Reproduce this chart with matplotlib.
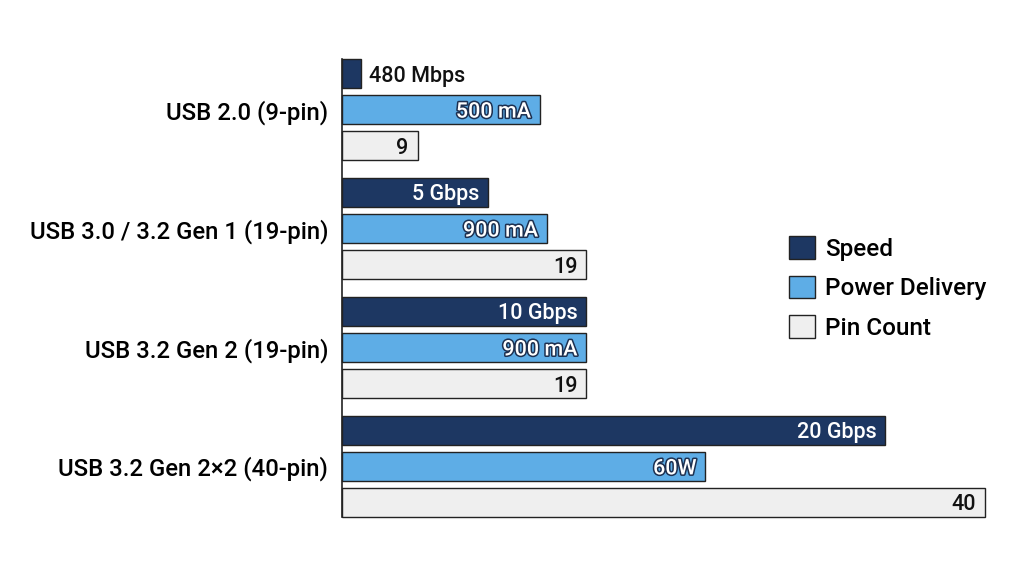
import matplotlib
matplotlib.use("Agg")
import matplotlib.pyplot as plt
import matplotlib.patheffects as pe
import numpy as np

plt.rcParams['font.family'] = ['Roboto', 'DejaVu Sans']
plt.rcParams['font.weight'] = 500

categories = ["USB 2.0 (9-pin)", "USB 3.0 / 3.2 Gen 1 (19-pin)",
              "USB 3.2 Gen 2 (19-pin)", "USB 3.2 Gen 2\u00d72 (40-pin)"]
series_names = ["Speed", "Power Delivery", "Pin Count"]
# relative bar lengths (illustrative scale, pin count units)
speed_len = [1.2, 9.1, 15.2, 33.8]
power_len = [12.3, 12.75, 15.2, 22.6]
pin_len = [4.7, 15.2, 15.2, 40]
speed_labels = ["480 Mbps", "5 Gbps", "10 Gbps", "20 Gbps"]
power_labels = ["500 mA", "900 mA", "900 mA", "60W"]
pin_labels = ["9", "19", "19", "40"]

colors = ["#1d3762", "#5eade6", "#efefef"]
edge = "#222222"

fig = plt.figure(figsize=(10.24, 5.72), dpi=100)
ax = fig.add_axes([342/1024, 1-517/572, (985-342)/1024, (517-59)/572])

y = np.arange(len(categories))
off = 0.303
h = 0.245
lens = [speed_len, power_len, pin_len]
labs = [speed_labels, power_labels, pin_labels]
fs = 15.5
for i, (L, lab, c, name) in enumerate(zip(lens, labs, colors, series_names)):
    yy = y + (i - 1) * off
    bars = ax.barh(yy, L, height=h, color=c, edgecolor=edge, linewidth=1.0, label=name)
    for b in bars:
        b.set_clip_on(False)
    for yi, v, t in zip(yy, L, lab):
        if i == 0:
            if v < 5:
                ax.text(v + 0.5, yi, t, ha='left', va='center_baseline', fontsize=fs, color='#111111')
            else:
                ax.text(v - 0.55, yi, t, ha='right', va='center_baseline', fontsize=fs, color='white')
        elif i == 1:
            ax.text(v - 0.55, yi, t, ha='right', va='center_baseline', fontsize=fs, color='white',
                    path_effects=[pe.withStroke(linewidth=2.2, foreground='#1d3050')])
        else:
            ax.text(v - 0.55, yi, t, ha='right', va='center_baseline', fontsize=fs, color='#111111')

ax.set_xlim(0, 40)
ax.set_ylim(3 + off + h/2, -off - h/2)
ax.set_yticks(y)
ax.set_yticklabels(categories, fontsize=17.2)
ax.tick_params(axis='y', length=0, pad=10)
ax.set_xticks([])
for s in ['top', 'right', 'bottom']:
    ax.spines[s].set_visible(False)
ax.spines['left'].set_linewidth(1.2)
ax.spines['left'].set_color('#222222')

handles, labels = ax.get_legend_handles_labels()
fig.legend(handles, labels, loc='center left', bbox_to_anchor=(789/1024, 1-288/572),
           frameon=False, fontsize=17.5, handlelength=1.05, handleheight=1.05,
           handletextpad=0.45, labelspacing=0.62, borderpad=0, borderaxespad=0)

fig.savefig("out.png", dpi=100, facecolor='white')
